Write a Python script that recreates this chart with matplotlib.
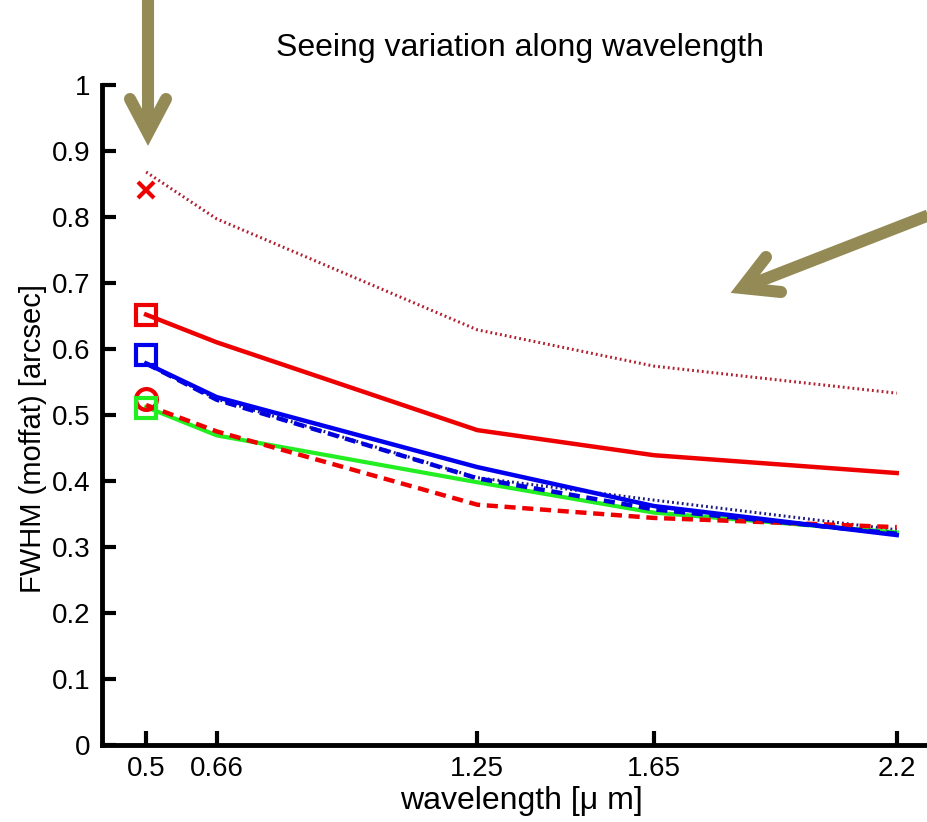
import matplotlib
matplotlib.use("Agg")
import matplotlib.pyplot as plt
from matplotlib.lines import Line2D

plt.rcParams["font.family"] = ["Liberation Sans", "DejaVu Sans"]

# wavelengths in micron
wl = [0.5, 0.66, 1.25, 1.65, 2.2]
wl_ticks = [0.5, 0.66, 1.25, 1.65, 2.2]
y_ticks = [0, 0.1, 0.2, 0.3, 0.4, 0.5, 0.6, 0.7, 0.8, 0.9, 1]

# FWHM curves [arcsec]
red_dotted = [0.868, 0.797, 0.629, 0.574, 0.533]
red_solid = [0.652, 0.610, 0.477, 0.439, 0.412]
blue_solid = [0.578, 0.527, 0.421, 0.362, 0.318]
blue_dashed = [0.578, 0.523, 0.404, 0.357, 0.320]
navy_dotted = [0.578, 0.524, 0.405, 0.371, 0.326]
green_solid = [0.512, 0.469, 0.398, 0.352, 0.322]
red_dashed = [0.515, 0.475, 0.364, 0.344, 0.330]

# single-point measurements at 0.5 micron
pt_x = 0.5
pt_red_x = 0.841
pt_red_sq = 0.651
pt_blue_sq = 0.591
pt_red_circ = 0.524
pt_green_sq = 0.511

fig = plt.figure(figsize=(9.27, 8.22), dpi=100)
ax = fig.add_axes([0.110, 0.0937, 0.905, 0.803])

ax.plot(wl, red_dotted, color="#b02030", lw=2.2, ls=(0, (0.6, 1.0)))
ax.plot(wl, red_solid, color="#ee0000", lw=3.2)
ax.plot(wl, navy_dotted, color="#1a1a80", lw=2.2, ls=(0, (0.6, 1.0)))
ax.plot(wl, green_solid, color="#22ee22", lw=3.0)
ax.plot(wl, red_dashed, color="#ee0000", lw=3.2, ls=(0, (2.5, 1.5)))
ax.plot(wl, blue_dashed, color="#0000dd", lw=3.2, ls=(0, (2.5, 1.5)))
ax.plot(wl, blue_solid, color="#0000ee", lw=3.2)

ms = 15
ax.plot(pt_x, pt_red_x, "x", color="#ee0000", ms=12, mew=3)
ax.plot(pt_x, pt_red_sq, "s", mfc="none", mec="#ee0000", ms=ms, mew=3)
ax.plot(pt_x, pt_blue_sq, "s", mfc="none", mec="#0000ee", ms=ms, mew=3)
ax.plot(pt_x, pt_red_circ, "o", mfc="none", mec="#ee0000", ms=ms, mew=3)
ax.plot(pt_x, pt_green_sq, "s", mfc="none", mec="#22ee22", ms=ms, mew=3)

ax.set_xlim(0.4, 2.3)
ax.set_ylim(0, 1)
ax.set_xticks(wl_ticks)
ax.set_xticklabels([f"{t:g}" for t in wl_ticks])
ax.set_yticks(y_ticks)
ax.set_yticklabels([f"{t:g}" for t in y_ticks])
ax.tick_params(direction="in", length=10, width=3, labelsize=20, pad=8)
for s in ("top", "right"):
    ax.spines[s].set_visible(False)
for s in ("left", "bottom"):
    ax.spines[s].set_linewidth(3.5)

ax.set_xlabel("wavelength [\u03bc m]", fontsize=23, labelpad=3)
ax.set_ylabel("FWHM (moffat) [arcsec]", fontsize=21)
ax.yaxis.set_label_coords(-0.066, 0.465)
fig.text(0.561, 0.942, "Seeing variation along wavelength", fontsize=23,
         ha="center", va="center")

# olive pointer arrows, drawn in figure pixels (origin bottom-left)
olive = "#948a55"
H = 822
arrows = [
    # shaft start, tip, arm end 1, arm end 2
    ((148, H + 10), (148, H - 133), (130, H - 99), (166, H - 99)),
    ((960, H - 203), (742, H - 288), (766, H - 257), (781, H - 292)),
]
for start, tip, a1, a2 in arrows:
    fig.add_artist(Line2D([start[0], tip[0]], [start[1], tip[1]], transform=None,
                          color=olive, lw=8.7, solid_capstyle="butt"))
    fig.add_artist(Line2D([a1[0], tip[0], a2[0]], [a1[1], tip[1], a2[1]], transform=None,
                          color=olive, lw=8.7, solid_capstyle="round",
                          solid_joinstyle="miter"))

fig.savefig("out.png", dpi=100)
